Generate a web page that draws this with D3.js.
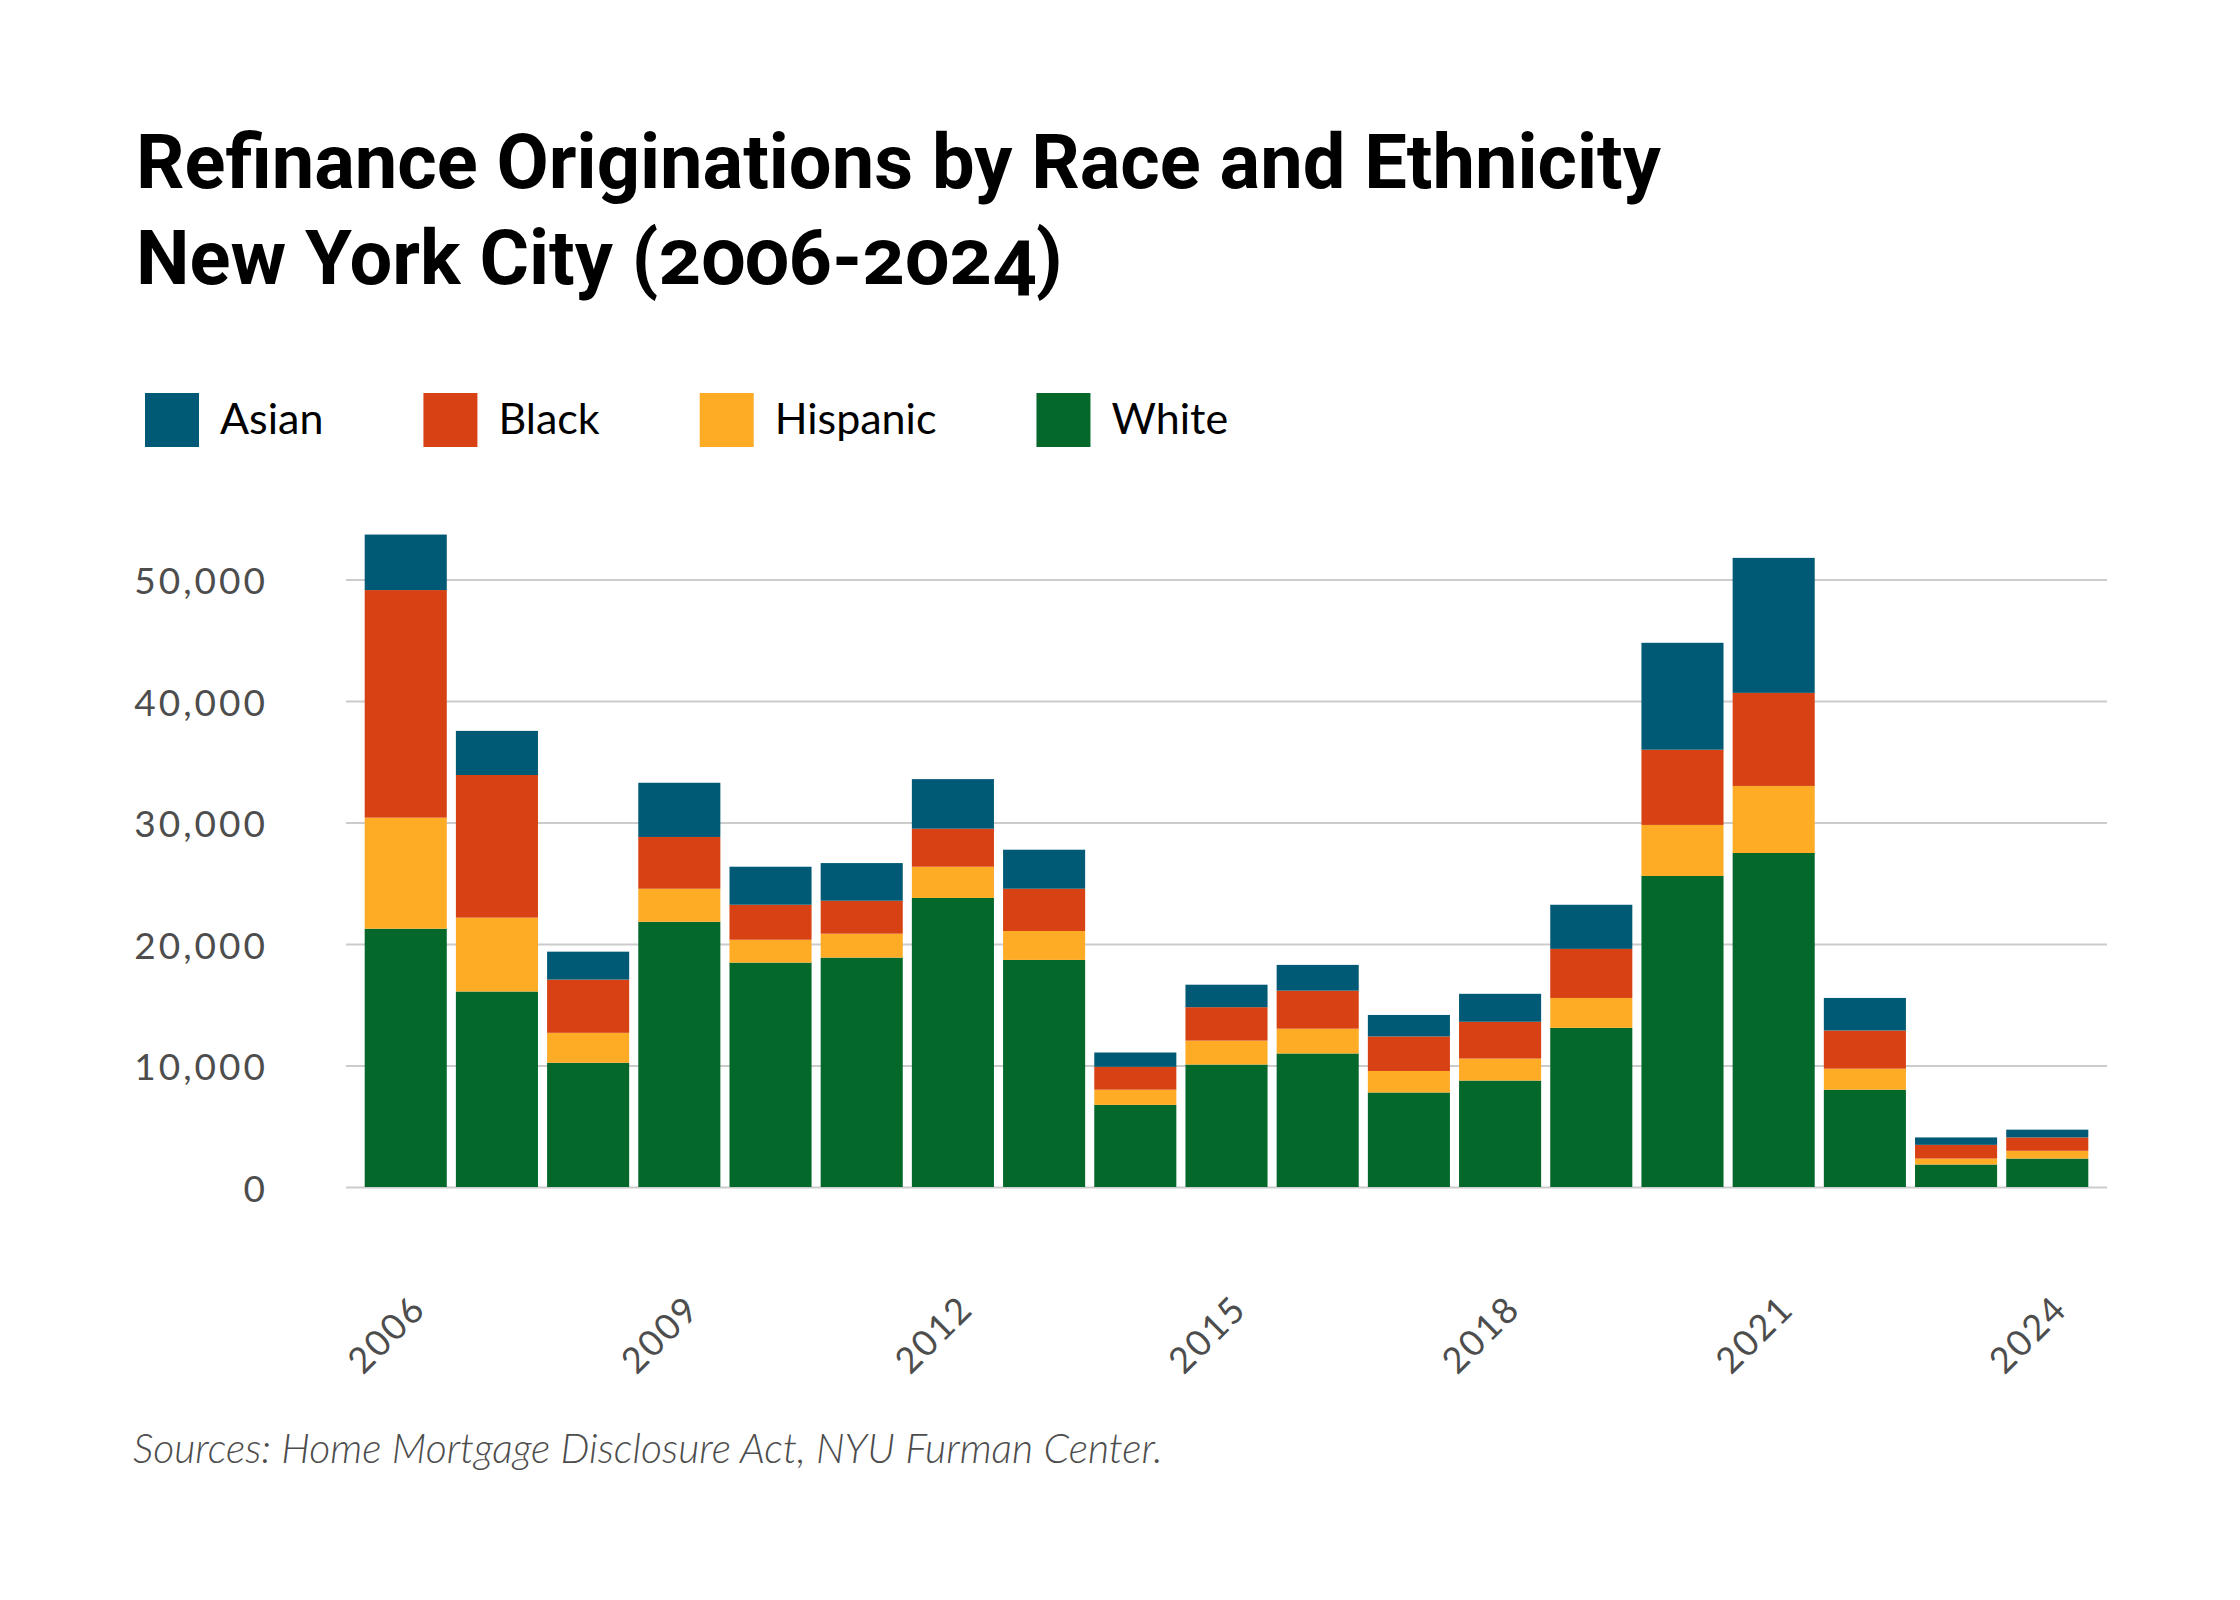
<!DOCTYPE html>
<html>
<head>
<meta charset="utf-8">
<script src="https://cdn.jsdelivr.net/npm/d3@7"></script>
<style>
  html, body { margin: 0; padding: 0; background: #fff; }
  svg { display: block; }
</style>
</head>
<body>
<div id="chart"></div>
<script>
// datos (originaciones de refinanciación, NYC)
const years    = [2006, 2007, 2008, 2009, 2010, 2011, 2012, 2013, 2014, 2015,
                  2016, 2017, 2018, 2019, 2020, 2021, 2022, 2023, 2024];
const white    = [21260, 16090, 10230, 21830, 18470, 18880, 23790, 18690, 6760, 10080,
                  10990, 7780, 8760, 13100, 25600, 27490, 8010, 1850, 2340];
const hispanic = [9140, 6080, 2460, 2720, 1880, 1970, 2570, 2380, 1250, 1970,
                  2040, 1770, 1810, 2460, 4200, 5520, 1730, 490, 640];
const black    = [18730, 11740, 4380, 4260, 2880, 2710, 3130, 3480, 1880, 2750,
                  3130, 2840, 3030, 4040, 6190, 7660, 3140, 1130, 1100];
const asian    = [4570, 3630, 2300, 4460, 3130, 3100, 4080, 3210, 1180, 1850,
                  2120, 1770, 2300, 3630, 8800, 11110, 2680, 610, 640];

const legendKeys = ['Asian', 'Black', 'Hispanic', 'White'];
const stackKeys  = ['White', 'Hispanic', 'Black', 'Asian'];
const yTicks     = [0, 10000, 20000, 30000, 40000, 50000];
const xTickYears = [2006, 2009, 2012, 2015, 2018, 2021, 2024];

const titleLines = ['Refinance Originations by Race and Ethnicity', 'New York City (2006-2024)'];
const sourceText = 'Sources: Home Mortgage Disclosure Act, NYU Furman Center.';

// tabla para d3.stack
const table = years.map((yr, i) => ({
  year: yr, White: white[i], Hispanic: hispanic[i], Black: black[i], Asian: asian[i]
}));

const W = 2240, H = 1600;
const plot = { left: 346, right: 2107, top: 579.5, bottom: 1187 };
const textGray = '#4d4d4d';

const color = d3.scaleOrdinal()
  .domain(legendKeys)
  .range(['#005a75', '#d84113', '#feab26', '#03682a']);

const svg = d3.select('#chart')
  .append('svg')
    .attr('width', W)
    .attr('height', H)
    .attr('viewBox', [0, 0, W, H]);

// ajusta el tamaño de fuente para que el texto ocupe el ancho dado
function fitWidth(sel, target) {
  const fs = parseFloat(sel.attr('font-size'));
  const len = sel.node().getComputedTextLength();
  if (len > 0) sel.attr('font-size', (fs * target / len).toFixed(2));
}

// título
const titleSize = 66;
const t1 = svg.append('text')
  .attr('x', 136).attr('y', 188)
  .attr('font-family', 'Roboto, "Noto Sans", sans-serif')
  .attr('font-weight', 700)
  .attr('font-size', titleSize)
  .attr('fill', '#000')
  .text(titleLines[0]);
fitWidth(t1, 1525);
svg.append('text')
  .attr('x', 136).attr('y', 284)
  .attr('font-family', 'Roboto, "Noto Sans", sans-serif')
  .attr('font-weight', 700)
  .attr('font-size', t1.attr('font-size'))
  .style('font-variant-numeric', 'oldstyle-nums')
  .attr('fill', '#000')
  .text(titleLines[1]);

// leyenda
const legend = svg.append('g').attr('transform', 'translate(145,393)');
let lx = 0;
legendKeys.forEach(k => {
  const item = legend.append('g').attr('transform', `translate(${lx},0)`);
  item.append('rect')
    .attr('width', 54).attr('height', 54)
    .attr('fill', color(k));
  const txt = item.append('text')
    .attr('x', 75).attr('y', 41)
    .attr('font-family', 'Lato, "Open Sans", sans-serif')
    .attr('font-size', 43)
    .attr('fill', '#000')
    .text(k);
  lx += 75 + txt.node().getComputedTextLength() + 100;
});

// escalas
const x = d3.scaleBand()
  .domain(years)
  .range([plot.left, plot.right])
  .paddingInner(0.1)
  .paddingOuter(0.205);

const y = d3.scaleLinear()
  .domain([0, 50000])
  .range([plot.bottom, plot.top]);

// rejilla
svg.append('g')
    .attr('transform', `translate(${plot.left},0)`)
    .call(d3.axisRight(y).tickValues(yTicks).tickSize(plot.right - plot.left).tickFormat(''))
    .call(g => g.select('.domain').remove())
    .call(g => g.selectAll('.tick line').attr('stroke', '#cccccc').attr('stroke-width', 2));

// eje Y
svg.append('g')
    .attr('transform', 'translate(268,0)')
    .call(d3.axisLeft(y).tickValues(yTicks).tickSize(0).tickPadding(0).tickFormat(d3.format(',')))
    .call(g => g.select('.domain').remove())
    .call(g => g.selectAll('text')
      .attr('font-family', 'Lato, "Open Sans", sans-serif')
      .attr('font-size', 37)
      .attr('letter-spacing', 3)
      .attr('fill', textGray)
      .attr('dy', '0.38em'));

// barras apiladas
const series = d3.stack().keys(stackKeys)(table);
svg.append('g')
  .selectAll('g')
  .data(series)
  .join('g')
    .attr('fill', d => color(d.key))
  .selectAll('rect')
  .data(d => d)
  .join('rect')
    .attr('x', d => x(d.data.year))
    .attr('width', x.bandwidth())
    .attr('y', d => y(d[1]))
    .attr('height', d => y(d[0]) - y(d[1]));

// eje X
svg.append('g')
    .attr('transform', `translate(0,${plot.bottom})`)
    .call(d3.axisBottom(x).tickValues(xTickYears).tickSize(0).tickPadding(0))
    .call(g => g.select('.domain').remove())
    .call(g => g.selectAll('text')
      .attr('font-family', 'Lato, "Open Sans", sans-serif')
      .attr('font-size', 36)
      .attr('letter-spacing', 2)
      .attr('fill', textGray)
      .attr('y', 0).attr('dy', 0)
      .attr('text-anchor', 'end')
      .attr('transform', 'translate(22,124) rotate(-45)'));

// fuente
const src = svg.append('text')
  .attr('x', 133).attr('y', 1463)
  .attr('font-family', 'Lato, "Open Sans", sans-serif')
  .attr('font-style', 'italic')
  .attr('font-weight', 300)
  .attr('font-size', 37)
  .attr('fill', textGray)
  .text(sourceText);
fitWidth(src, 1030);
</script>
</body>
</html>
